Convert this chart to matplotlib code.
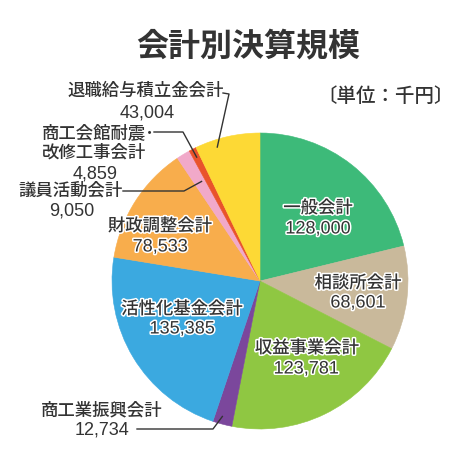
import matplotlib
matplotlib.use("Agg")
import matplotlib.pyplot as plt
import matplotlib.patheffects as pe
import numpy as np

plt.rcParams['font.family'] = ['Noto Sans CJK JP', 'DejaVu Sans']

# ---- data ----
names = ["一般会計", "相談所会計", "収益事業会計", "商工業振興会計", "活性化基金会計",
         "財政調整会計", "議員活動会計", "商工会館耐震･改修工事会計", "退職給与積立金会計"]
values = [128000, 68601, 123781, 12734, 135385, 78533, 9050, 4859, 43004]
value_labels = ["128,000", "68,601", "123,781", "12,734", "135,385",
                "78,533", "9,050", "4,859", "43,004"]
colors = ["#3dba79", "#c9b99b", "#8fc742", "#7b479c", "#3ba9e0",
          "#f8ad4c", "#f1a9c9", "#e9532b", "#fdd935"]
title = "会計別決算規模"
unit = "〔単位：千円〕"

W, H = 462, 454
fig = plt.figure(figsize=(W / 100, H / 100), dpi=100)
fig.patch.set_facecolor("white")

def fx(x):
    return x / W

def fy(y):
    return 1 - y / H

# pie axes: centre (260,281) px, radius 148 px
cx, cy, R = 260, 281, 148
ax = fig.add_axes([fx(cx - R), fy(cy + R), 2 * R / W, 2 * R / H])
wedges, _ = ax.pie(values, colors=colors, startangle=90, counterclock=False,
                   wedgeprops=dict(linewidth=0.4))
for w, c in zip(wedges, colors):
    w.set_edgecolor(c)
ax.set_xlim(-1, 1)
ax.set_ylim(-1, 1)
ax.set_aspect("equal")
ax.axis("off")

TXT = "#333333"
halo = [pe.withStroke(linewidth=2.2, foreground="white")]
NUMFONT = ['Liberation Sans', 'DejaVu Sans']

def line_text(x, y, s, size=12.5, halo_on=False, num=False, **kw):
    if num:
        kw.setdefault("family", NUMFONT)
        size = 13
    else:
        kw.setdefault("weight", "medium")
    t = fig.text(fx(x), fy(y), s, ha="center", va="center", fontsize=size,
                 color=TXT, **kw)
    if halo_on:
        t.set_path_effects(halo)
    return t

# title and unit
line_text(248, 47, title, size=23, weight="bold")
line_text(386, 97, unit, size=14)

# in-pie labels (name line, value line)
inside = {
    0: ((318, 208), (318, 229)),
    1: ((358, 283), (358, 303)),
    2: ((307, 348), (306, 369)),
    4: ((182, 309), (182, 329)),
    5: ((160, 226), (160, 247)),
}
for i, (p1, p2) in inside.items():
    line_text(*p1, names[i], halo_on=True)
    line_text(*p2, value_labels[i], halo_on=True, num=True)

# outside labels
line_text(146, 91, names[8])
line_text(147, 113, value_labels[8], num=True)
part1, part2 = names[7].split("･")
line_text(98, 133, part1 + "･")
line_text(94, 153, part2)
line_text(95, 174, value_labels[7], num=True)
line_text(71, 191, names[6])
line_text(72, 211, value_labels[6], num=True)
line_text(102, 410, names[3])
line_text(102, 430, value_labels[3], num=True)

# leader lines: (text-side points in px, wedge index, fraction along wedge, radius)
def wedge_point(i, f, r):
    w = wedges[i]
    th = np.deg2rad(w.theta1 + f * (w.theta2 - w.theta1))
    disp = ax.transData.transform((r * np.cos(th), r * np.sin(th)))
    return fig.transFigure.inverted().transform(disp)

leaders = [
    ([(223, 93), (229, 94)], 8, 0.69, 0.95),
    ([(154, 132), (183, 132)], 7, 0.5, 0.94),
    ([(123, 191), (184, 191)], 6, 0.35, 0.78),
    ([(137, 429), (213, 429)], 3, 0.4, 0.95),
]
for pts, i, f, r in leaders:
    xs = [fx(p[0]) for p in pts]
    ys = [fy(p[1]) for p in pts]
    ex, ey = wedge_point(i, f, r)
    xs.append(ex)
    ys.append(ey)
    fig.add_artist(plt.Line2D(xs, ys, transform=fig.transFigure,
                              color="#333333", linewidth=1.0))

fig.savefig("out.png", dpi=100, facecolor="white")
